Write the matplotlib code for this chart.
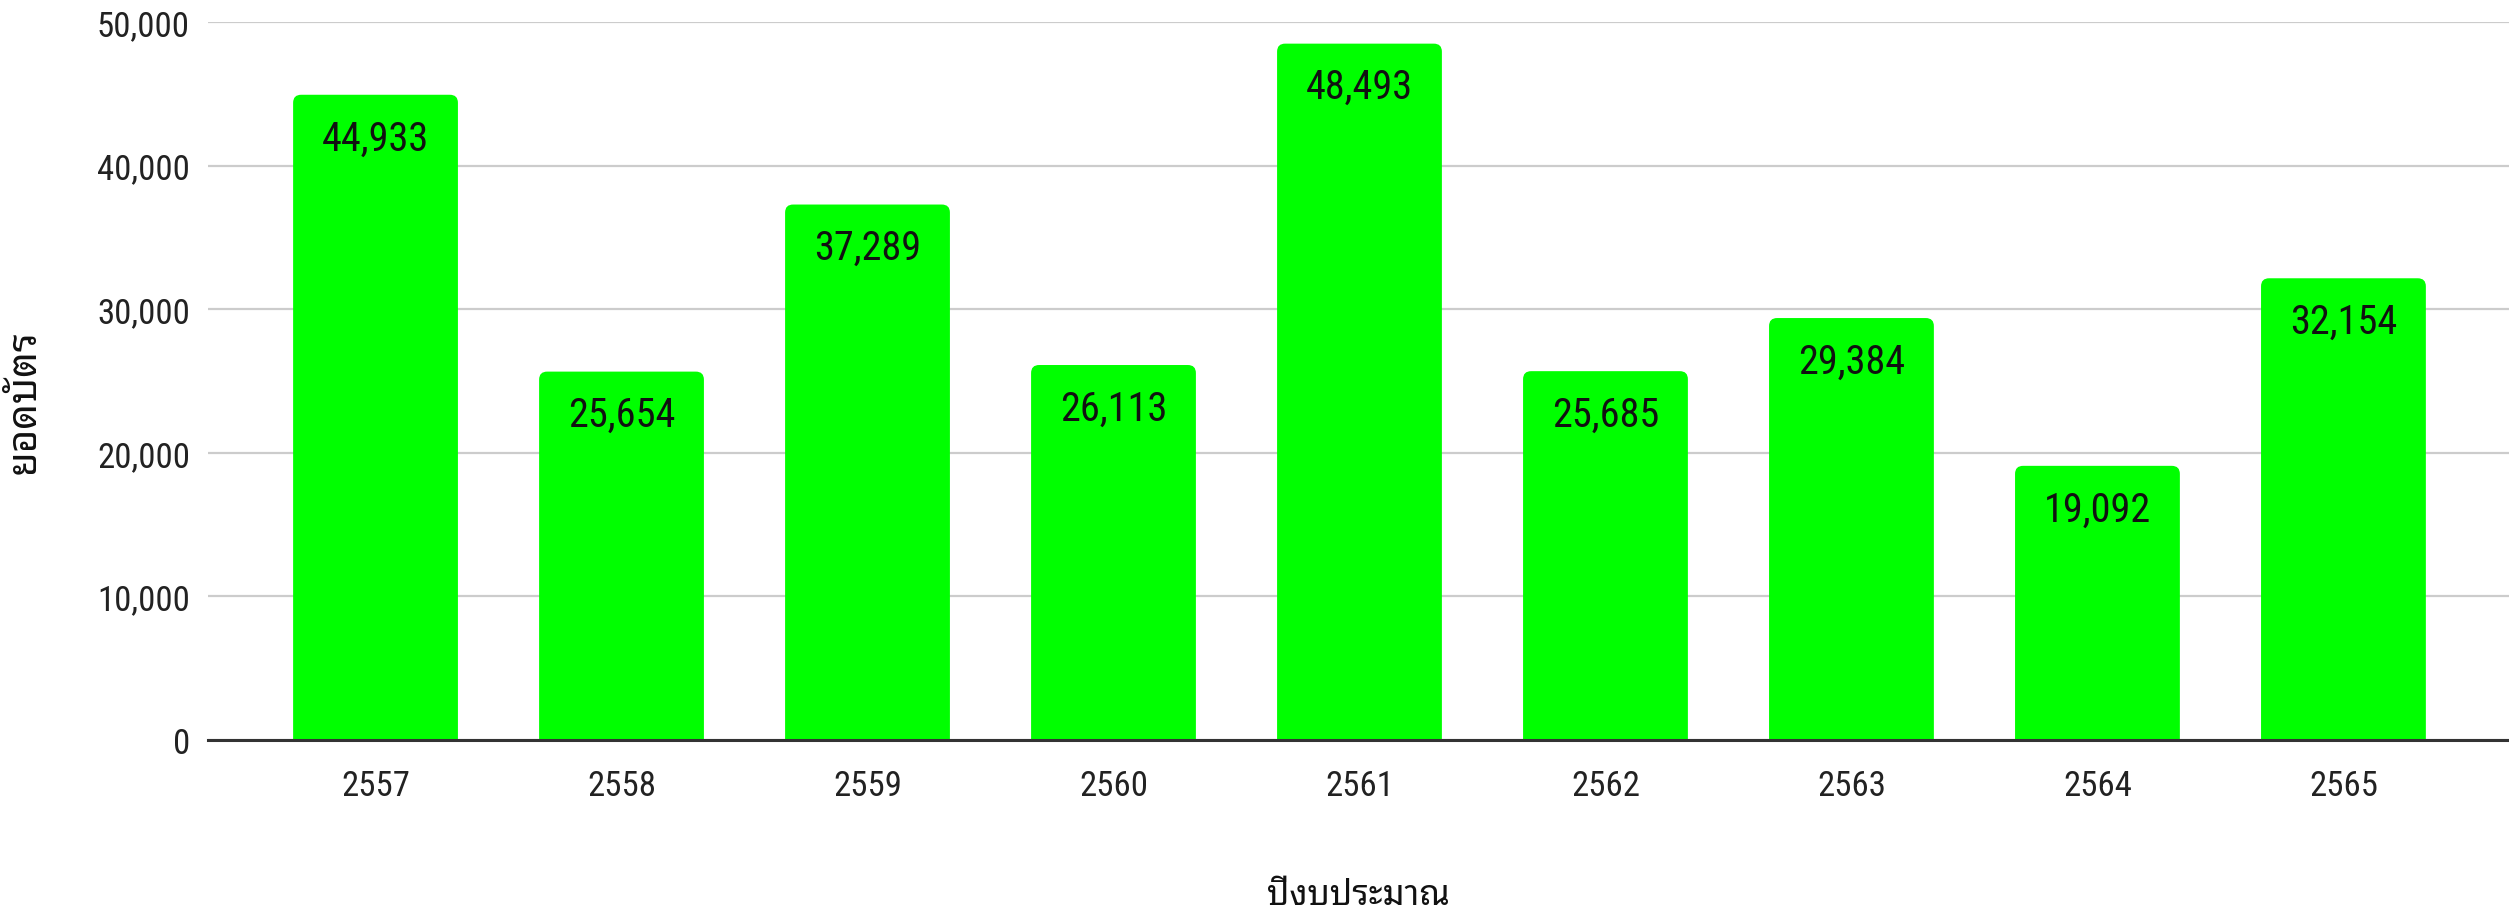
import matplotlib
matplotlib.use("Agg")
import matplotlib.pyplot as plt
from matplotlib.patches import FancyBboxPatch
from matplotlib.ticker import FuncFormatter

# data
years = ["2557", "2558", "2559", "2560", "2561", "2562", "2563", "2564", "2565"]
cards = [44933, 25654, 37289, 26113, 48493, 25685, 29384, 19092, 32154]
yticks = [0, 10000, 20000, 30000, 40000, 50000]

num_font = ["Roboto Condensed", "Roboto", "DejaVu Sans"]
thai_font = ["Noto Sans Thai Looped", "Noto Sans Thai", "DejaVu Sans"]
green = "#00ff00"

W, H, DPI = 2509, 912, 100
fig = plt.figure(figsize=(W / DPI, H / DPI), dpi=DPI)
# axes box in pixels: left 208, right 2509, baseline 741, top grid 23
ax = fig.add_axes([208 / W, (H - 741) / H, (W - 208) / W, (741 - 23) / H])

x = range(len(years))
bars = ax.bar(x, cards, width=0.67, color=green, zorder=2)

ax.set_xlim(-0.681, 8.673)
ax.set_ylim(0, 50000)

# round the top corners: swap each bar for a rounded box (bottom hidden below 0)
px_per_x = ax.bbox.width / (8.673 + 0.681)
px_per_y = ax.bbox.height / 50000
radius_px = 8
aspect = (1 / px_per_y) / (1 / px_per_x)
r_x = radius_px / px_per_x
for rect in bars:
    rect.set_visible(False)
    x0, w, h = rect.get_x(), rect.get_width(), rect.get_height()
    drop = 2 * radius_px / px_per_y
    box = FancyBboxPatch((x0, -drop), w, h + drop,
                         boxstyle=f"round,pad=0,rounding_size={r_x}",
                         mutation_aspect=aspect, facecolor=green,
                         edgecolor="none", zorder=2)
    ax.add_patch(box)
    ax.annotate(f"{h:,.0f}", (x0 + w / 2, h), xytext=(0, -17),
                textcoords="offset points", ha="center", va="top",
                fontsize=29, family=num_font, color="#111111", zorder=3)

ax.set_yticks(yticks)
ax.yaxis.set_major_formatter(FuncFormatter(lambda v, p: f"{v:,.0f}"))
ax.set_xticks(list(x))
ax.set_xticklabels(years)
ax.tick_params(axis="both", length=0, labelsize=25, colors="#222222")
ax.tick_params(axis="y", pad=13)
ax.tick_params(axis="x", pad=21)
for lab in ax.get_xticklabels() + ax.get_yticklabels():
    lab.set_family(num_font)

ax.grid(axis="y", color="#cccccc", linewidth=1.6, zorder=0)
ax.set_axisbelow(True)
for side in ["top", "right", "left"]:
    ax.spines[side].set_visible(False)
ax.spines["bottom"].set_color("#333333")
ax.spines["bottom"].set_linewidth(2.2)
ax.spines["bottom"].set_zorder(4)

ax.set_ylabel("ยอดบัตร", family=thai_font, fontsize=29, fontweight="bold",
              color="#111111", va="center")
ax.yaxis.set_label_coords(-0.0795, 0.472)
ax.set_xlabel("ปีงบประมาณ", family=thai_font, fontsize=25, color="#111111",
              va="baseline")
ax.xaxis.set_label_coords(0.5, -0.228)

fig.savefig("out.png", dpi=DPI)
